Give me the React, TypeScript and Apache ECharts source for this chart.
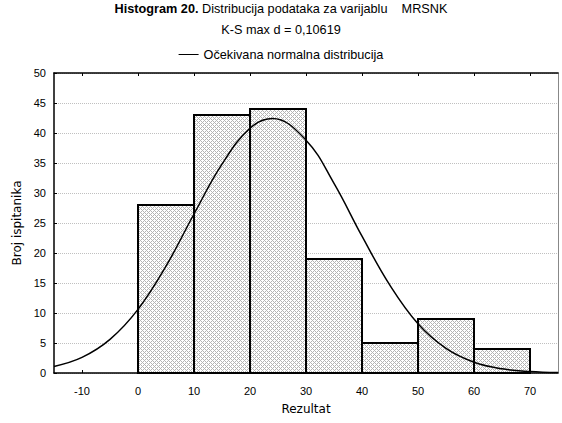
import React, { useEffect, useRef } from "react";
import * as echarts from "echarts";

const binStarts = [0, 10, 20, 30, 40, 50, 60];
const binEnds = [10, 20, 30, 40, 50, 60, 70];
const counts = [28, 43, 44, 19, 5, 9, 4];

// expected normal curve
const curveX = [-15, -10, -5, 0, 5, 10, 15, 20, 24, 30, 35, 40, 45, 50, 55, 60, 65, 70, 75];
const curveY = [1.1, 2.6, 5.6, 10.6, 17.8, 26.5, 34.8, 40.8, 42.4, 38.8, 31.6, 22.8, 14.6, 8.2, 4.1, 1.8, 0.7, 0.25, 0.07];

const xTicks = [-10, 0, 10, 20, 30, 40, 50, 60, 70];

function makePattern(): any {
  const c = document.createElement("canvas");
  c.width = 4;
  c.height = 4;
  const ctx = c.getContext("2d");
  if (!ctx) return "#dcdcdc";
  ctx.fillStyle = "#ffffff";
  ctx.fillRect(0, 0, 4, 4);
  ctx.fillStyle = "#b4b4b4";
  for (let x = 0; x < 4; x++) {
    for (let y = 0; y < 4; y++) {
      if ((x + y) % 4 === 0 || (((x - y) % 4) + 4) % 4 === 0) ctx.fillRect(x, y, 1, 1);
    }
  }
  return { image: c, repeat: "repeat" };
}

export default function App() {
  const ref = useRef<HTMLDivElement>(null);
  useEffect(() => {
    const chart = echarts.init(ref.current!, null, { renderer: "svg" });
    const barData = counts.map((c, i) => [binStarts[i], binEnds[i], c]);
    const lineData = curveX.map((x, i) => [x, curveY[i]]);
    const pattern = makePattern();
    chart.setOption({
      animation: false,
      backgroundColor: "#fff",
      textStyle: { fontFamily: "Liberation Sans" },
      title: {
        left: "center",
        top: -7,
        text: "{b|Histogram 20.} Distribucija podataka za varijablu    MRSNK\nK-S max d = 0,10619",
        textStyle: {
          fontSize: 12.7,
          fontWeight: "normal",
          color: "#000",
          lineHeight: 21,
          fontFamily: "Liberation Sans",
          rich: { b: { fontWeight: "bold", fontSize: 12.7, fontFamily: "Liberation Sans", color: "#000" } },
        },
      },
      legend: {
        top: 43,
        left: "center",
        icon: "rect",
        itemWidth: 20,
        itemHeight: 1,
        itemGap: 6,
        textStyle: { fontSize: 12.7, color: "#000", fontFamily: "Liberation Sans" },
        data: [{ name: "Očekivana normalna distribucija", itemStyle: { color: "#000" } }],
      },
      grid: { left: 54, right: 4, top: 73, bottom: 50 },
      xAxis: [
        {
          type: "value",
          min: -15,
          max: 75,
          position: "bottom",
          name: "Rezultat",
          nameLocation: "middle",
          nameGap: 30,
          nameTextStyle: { fontFamily: "DejaVu Sans", fontSize: 12, color: "#000" },
          axisLine: { onZero: false, lineStyle: { color: "#000", width: 1.5 } },
          axisTick: { show: true, inside: true, length: 3, customValues: xTicks, lineStyle: { color: "#000" } },
          axisLabel: { customValues: xTicks, color: "#000", fontSize: 11, margin: 12, fontFamily: "Liberation Sans" },
          splitLine: { show: false },
        },
        {
          type: "value",
          min: -15,
          max: 75,
          position: "top",
          axisLine: { show: true, onZero: false, lineStyle: { color: "#000", width: 1.5 } },
          axisTick: { show: true, inside: true, length: 3, customValues: xTicks, lineStyle: { color: "#000" } },
          axisLabel: { show: false },
          splitLine: { show: false },
        },
      ],
      yAxis: [
        {
          type: "value",
          min: 0,
          max: 50,
          interval: 5,
          position: "left",
          name: "Broj ispitanika",
          nameLocation: "middle",
          nameGap: 31,
          nameTextStyle: { fontFamily: "DejaVu Sans", fontSize: 12, color: "#000" },
          axisLine: { show: true, onZero: false, lineStyle: { color: "#000", width: 1.5 } },
          axisTick: { show: true, inside: true, length: 3, lineStyle: { color: "#000" } },
          axisLabel: { color: "#000", fontSize: 11, margin: 8, fontFamily: "Liberation Sans" },
          splitLine: { show: true, lineStyle: { color: "#c0c0c0", type: "dotted", width: 1 } },
        },
        {
          type: "value",
          min: 0,
          max: 50,
          interval: 5,
          position: "right",
          axisLine: { show: true, onZero: false, lineStyle: { color: "#888", width: 1 } },
          axisTick: { show: false },
          axisLabel: { show: false },
          splitLine: { show: false },
        },
      ],
      series: [
        {
          type: "custom",
          xAxisIndex: 0,
          yAxisIndex: 0,
          data: barData,
          encode: { x: [0, 1], y: 2 },
          renderItem: (params: any, api: any) => {
            const p0 = api.coord([api.value(0), api.value(2)]);
            const p1 = api.coord([api.value(1), 0]);
            return {
              type: "rect",
              shape: { x: p0[0], y: p0[1], width: p1[0] - p0[0], height: p1[1] - p0[1] },
              style: { fill: pattern, stroke: "#000", lineWidth: 2 },
            };
          },
          z: 2,
        },
        {
          type: "line",
          name: "Očekivana normalna distribucija",
          xAxisIndex: 0,
          yAxisIndex: 0,
          data: lineData,
          smooth: 0.4,
          showSymbol: false,
          symbol: "none",
          lineStyle: { color: "#000", width: 1.5 },
          itemStyle: { color: "#000" },
          z: 3,
        },
      ],
    });
    return () => chart.dispose();
  }, []);
  return <div ref={ref} style={{ position: "fixed", left: 0, top: 0, width: 562, height: 423 }} />;
}
